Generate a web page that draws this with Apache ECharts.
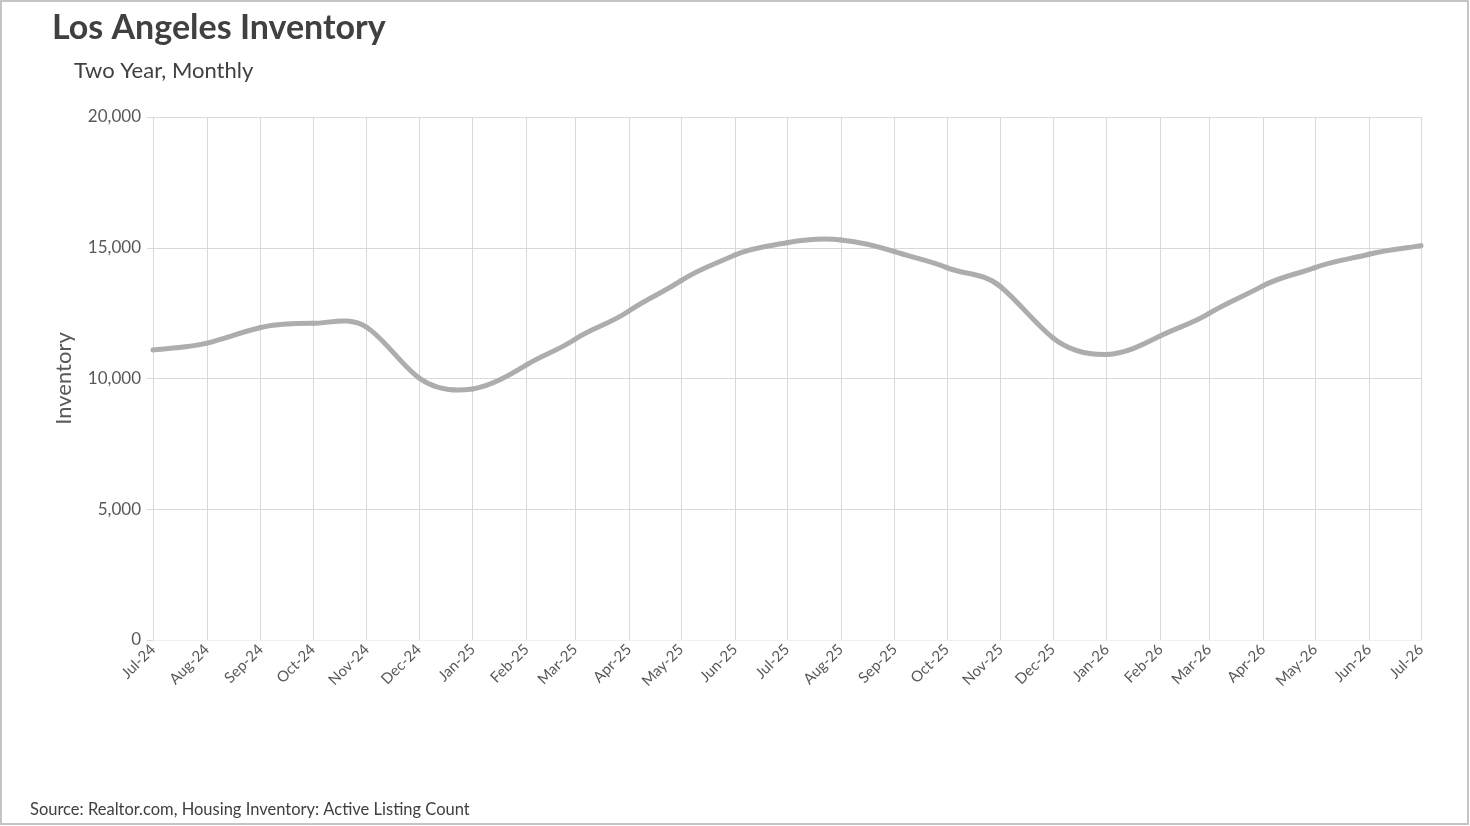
<!DOCTYPE html>
<html lang="en">
<head>
    <meta charset="UTF-8">
    <title>Los Angeles Inventory</title>
    <script src="https://cdn.jsdelivr.net/npm/echarts@6/dist/echarts.min.js"></script>
    <style>
        html, body { margin: 0; padding: 0; background: #fff; }
    </style>
</head>
<body>
<div style="width: 1470px; height: 826px" id="chart"></div>

<script type="text/javascript">
    // monthly data points (first of month)
    var months = [
        '2024-07-01', '2024-08-01', '2024-09-01', '2024-10-01', '2024-11-01', '2024-12-01',
        '2025-01-01', '2025-02-01', '2025-03-01', '2025-04-01', '2025-05-01', '2025-06-01',
        '2025-07-01', '2025-08-01', '2025-09-01', '2025-10-01', '2025-11-01', '2025-12-01',
        '2026-01-01', '2026-02-01', '2026-03-01', '2026-04-01', '2026-05-01', '2026-06-01',
        '2026-07-01'
    ];
    var inventory = [
        11090, 11350, 11950, 12110, 11960, 10030,
        9600, 10520, 11500, 12580, 13740, 14720,
        15190, 15300, 14850, 14240, 13510, 11560,
        10920, 11630, 12490, 13540, 14240, 14750,
        15080
    ];
    var monthNames = ['Jan', 'Feb', 'Mar', 'Apr', 'May', 'Jun', 'Jul', 'Aug', 'Sep', 'Oct', 'Nov', 'Dec'];
    var yTicks = { min: 0, max: 20000, step: 5000 };

    var DAY = 24 * 3600 * 1000;
    var font = 'Lato';
    // spreadsheet-like smoothing: even spacing along x, a bit stronger tangent in y
    var KX = 1 / 6;
    var KY = 0.21;

    function toTime(s) {
        var p = s.split('-');
        return new Date(+p[0], +p[1] - 1, +p[2]).getTime();
    }
    var times = months.map(toTime);

    // one bezier segment per point, from point i to i+1, positions come from api.coord
    function renderSegment(params, api) {
        var i = params.dataIndex;
        var n = times.length;
        if (i >= n - 1) return null;
        function pt(j) {
            j = Math.max(0, Math.min(n - 1, j));
            return api.coord([times[j], inventory[j]]);
        }
        var p0 = pt(i - 1), p1 = pt(i), p2 = pt(i + 1), p3 = pt(i + 2);
        return {
            type: 'bezierCurve',
            shape: {
                x1: p1[0], y1: p1[1],
                x2: p2[0], y2: p2[1],
                cpx1: p1[0] + (p2[0] - p0[0]) * KX,
                cpy1: p1[1] + (p2[1] - p0[1]) * KY,
                cpx2: p2[0] - (p3[0] - p1[0]) * KX,
                cpy2: p2[1] - (p3[1] - p1[1]) * KY
            },
            style: { fill: null, stroke: '#adadad', lineWidth: 5, lineCap: 'round' },
            silent: true
        };
    }

    var myChart = echarts.init(document.getElementById('chart'));

    var option = {
        backgroundColor: '#fff',
        animation: false,
        textStyle: { fontFamily: font },
        title: [
            {
                text: 'Los Angeles Inventory',
                left: 52,
                top: 11,
                padding: 0,
                textStyle: { fontFamily: font, fontSize: 34, fontWeight: 'bold', color: '#404040' }
            },
            {
                text: 'Two Year, Monthly',
                left: 74,
                top: 60,
                padding: 0,
                textStyle: { fontFamily: font, fontSize: 22, fontWeight: 'normal', color: '#404040' }
            },
            {
                text: 'Source: Realtor.com, Housing Inventory: Active Listing Count',
                left: 30,
                top: 801,
                padding: 0,
                textStyle: { fontFamily: font, fontSize: 16.5, fontWeight: 'normal', color: '#404040' }
            }
        ],
        graphic: [{
            type: 'rect',
            shape: { x: 1, y: 1, width: 1467, height: 823 },
            style: { fill: 'none', stroke: '#c4c4c4', lineWidth: 2 },
            silent: true
        }],
        grid: {
            left: 153,
            right: 49,
            top: 117,
            bottom: 186
        },
        xAxis: {
            type: 'time',
            min: times[0],
            max: times[times.length - 1],
            splitNumber: 24,
            minInterval: 28 * DAY,
            maxInterval: 31 * DAY,
            axisLine: { show: false },
            axisTick: { show: false },
            splitLine: { show: true, lineStyle: { color: '#d9d9d9', width: 1 } },
            axisLabel: {
                rotate: 45,
                margin: 7,
                fontFamily: font,
                fontSize: 15,
                color: '#595959',
                showMinLabel: true,
                showMaxLabel: true,
                hideOverlap: false,
                formatter: function (val) {
                    var d = new Date(val);
                    return monthNames[d.getMonth()] + '-' + String(d.getFullYear()).slice(2);
                }
            }
        },
        yAxis: {
            type: 'value',
            min: yTicks.min,
            max: yTicks.max,
            interval: yTicks.step,
            name: 'Inventory',
            nameLocation: 'middle',
            nameGap: 78,
            nameTextStyle: { fontFamily: font, fontSize: 22, color: '#595959' },
            axisLine: { show: false },
            axisTick: { show: true, length: 6, lineStyle: { color: '#d9d9d9' } },
            splitLine: {
                lineStyle: { color: ['#f0f0f0', '#d9d9d9', '#d9d9d9', '#d9d9d9', '#d9d9d9'], width: 1 }
            },
            axisLabel: {
                margin: 12,
                fontFamily: font,
                fontSize: 17,
                color: '#595959',
                formatter: function (v) {
                    return v.toString().replace(/\B(?=(\d{3})+(?!\d))/g, ',');
                }
            }
        },
        series: [{
            name: 'Inventory',
            type: 'custom',
            renderItem: renderSegment,
            encode: { x: 0, y: 1 },
            data: times.map(function (t, i) { return [t, inventory[i]]; }),
            clip: false
        }]
    };

    myChart.setOption(option);
</script>
</body>
</html>
